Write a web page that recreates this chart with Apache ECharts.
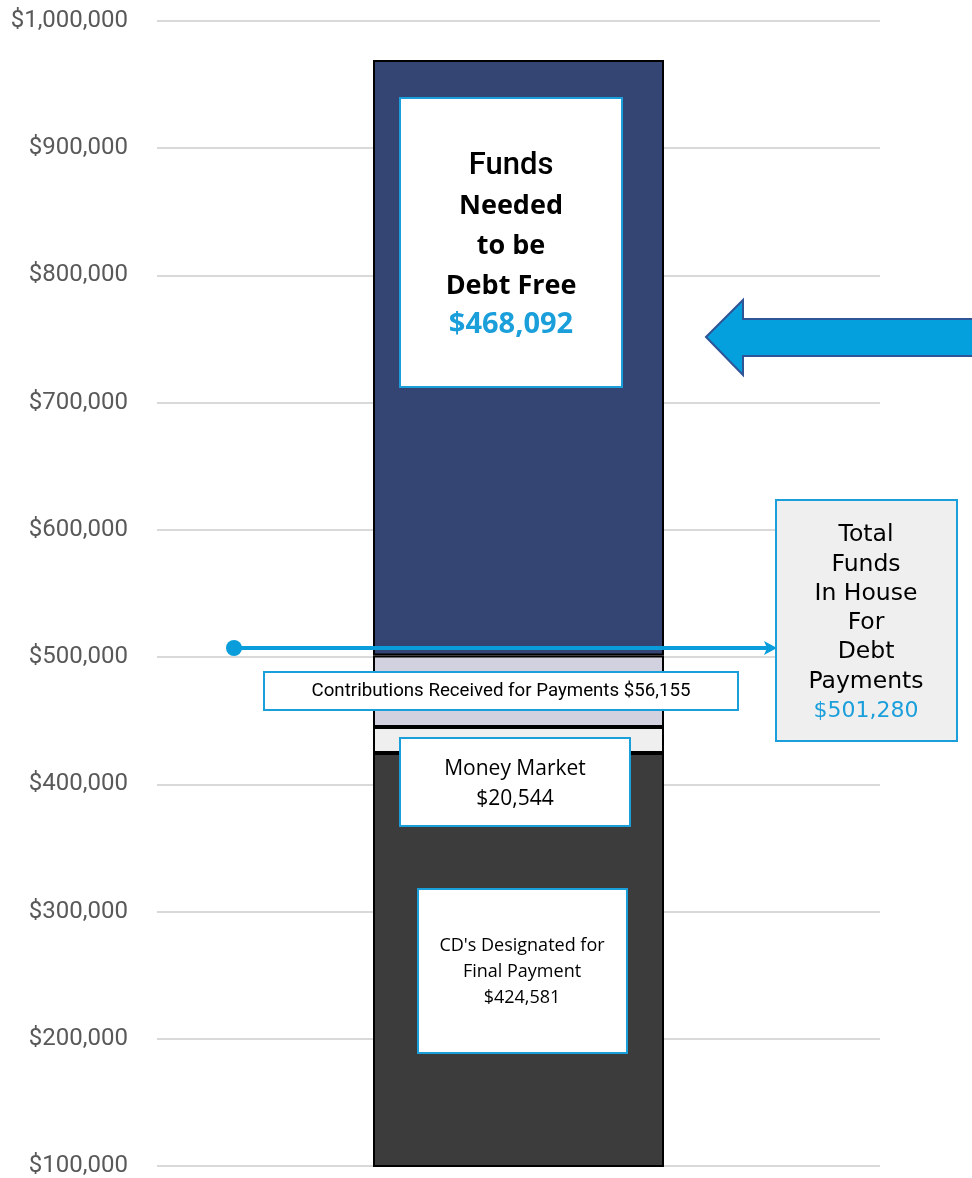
<!DOCTYPE html>
<html>
<head>
<meta charset="utf-8">
<script src="https://cdn.jsdelivr.net/npm/echarts@6/dist/echarts.min.js"></script>
<style>
  html, body { margin: 0; padding: 0; background: #fff; }
  #main { width: 972px; height: 1178px; }
</style>
</head>
<body>
<div id="main"></div>
<script>
// data
var categories = ['Debt'];
var seriesNames = ["CD's Designated for Final Payment", 'Money Market', 'Contributions Received for Payments', 'Funds Needed to be Debt Free'];
var cdValues = [424581];
var moneyMarketValues = [20544];
var contributionValues = [56155];
var fundsNeededValues = [468092];
var yTicks = [100000, 200000, 300000, 400000, 500000, 600000, 700000, 800000, 900000, 1000000];

var colors = ['#3c3c3c', '#efefef', '#d1d1df', '#344574'];
var blue = '#1a9fdb';

function money(v) {
  return '$' + v.toString().replace(/\B(?=(\d{3})+(?!\d))/g, ',');
}
var totalInHouse = cdValues[0] + moneyMarketValues[0] + contributionValues[0];

var allValues = [cdValues, moneyMarketValues, contributionValues, fundsNeededValues];
var series = [];
for (var i = 0; i < allValues.length; i++) {
  series.push({
    name: seriesNames[i],
    type: 'bar',
    stack: 'total',
    barWidth: 291,
    data: allValues[i],
    itemStyle: { color: colors[i], borderColor: '#000', borderWidth: 2 },
    emphasis: { disabled: true }
  });
}

// annotation boxes
function box(x, y, w, h, fill) {
  return {
    type: 'rect', z: 100,
    shape: { x: x, y: y, width: w, height: h },
    style: { fill: fill || '#fff', stroke: blue, lineWidth: 2 }
  };
}
function txt(x, y, text, style) {
  var s = { text: text, fill: '#000', align: 'center', verticalAlign: 'middle' };
  for (var k in style) s[k] = style[k];
  return { type: 'text', z: 101, x: x, y: y, style: s };
}

var graphics = [
  box(400, 98, 222, 289),
  txt(511, 245,
    '{a|Funds}\n{b|Needed}\n{b|to be}\n{b|Debt Free}\n{c|' + money(fundsNeededValues[0]) + '}',
    { rich: {
      a: { fontFamily: 'Roboto', fontWeight: 500, fontSize: 31, lineHeight: 40, fill: '#000' },
      b: { fontFamily: 'Open Sans', fontWeight: 'bold', fontSize: 27, lineHeight: 40, fill: '#000' },
      c: { fontFamily: 'Open Sans', fontWeight: 'bold', fontSize: 29, lineHeight: 38, fill: blue }
    } }),
  // big arrow
  { type: 'polygon', z: 100,
    shape: { points: [[706, 337], [743, 300], [743, 319], [976, 319], [976, 356], [743, 356], [743, 375]] },
    style: { fill: '#049fdd', stroke: '#2f5597', lineWidth: 2 } },
  // total line with dot
  { type: 'line', z: 100, shape: { x1: 234, y1: 648, x2: 770, y2: 648 }, style: { stroke: '#0a9ddb', lineWidth: 4 } },
  { type: 'circle', z: 100, shape: { cx: 234, cy: 648, r: 8 }, style: { fill: '#0a9ddb' } },
  { type: 'polygon', z: 100, shape: { points: [[777, 648], [764, 641], [767, 648], [764, 655]] }, style: { fill: '#0a9ddb' } },
  box(264, 672, 474, 38),
  txt(501, 691, seriesNames[2] + ' ' + money(contributionValues[0]), { fontFamily: 'Roboto', fontSize: 18.7 }),
  box(776, 500, 181, 241, '#efefef'),
  txt(866, 623,
    'Total\nFunds\nIn House\nFor\nDebt\nPayments\n{c|' + money(totalInHouse) + '}',
    { fontFamily: 'DejaVu Sans', fontSize: 23.5, lineHeight: 29.3,
      rich: { c: { fontFamily: 'DejaVu Sans', fontSize: 22, lineHeight: 29.3, fill: blue } } }),
  box(400, 738, 230, 88),
  txt(515, 784, 'Money Market\n' + money(moneyMarketValues[0]), { fontFamily: 'Open Sans', fontSize: 21, lineHeight: 30 }),
  box(418, 889, 209, 164),
  txt(522, 972, "CD's Designated for\nFinal Payment\n" + money(cdValues[0]), { fontFamily: 'Open Sans', fontSize: 18, lineHeight: 26 })
];

var chart = echarts.init(document.getElementById('main'), null, { renderer: 'canvas' });
chart.setOption({
  animation: false,
  backgroundColor: '#fff',
  grid: { left: 157, right: 92, top: 21, bottom: 12, containLabel: false },
  xAxis: {
    type: 'category',
    data: categories,
    show: false
  },
  yAxis: {
    type: 'value',
    min: yTicks[0],
    max: yTicks[yTicks.length - 1],
    interval: 100000,
    axisLine: { show: false },
    axisTick: { show: false },
    axisLabel: {
      color: '#595959', fontFamily: 'Roboto', fontSize: 24, margin: 29,
      formatter: function (v) { return money(v); }
    },
    splitLine: { lineStyle: { color: '#d9d9d9', width: 2 } }
  },
  series: series,
  graphic: graphics
});
</script>
</body>
</html>
